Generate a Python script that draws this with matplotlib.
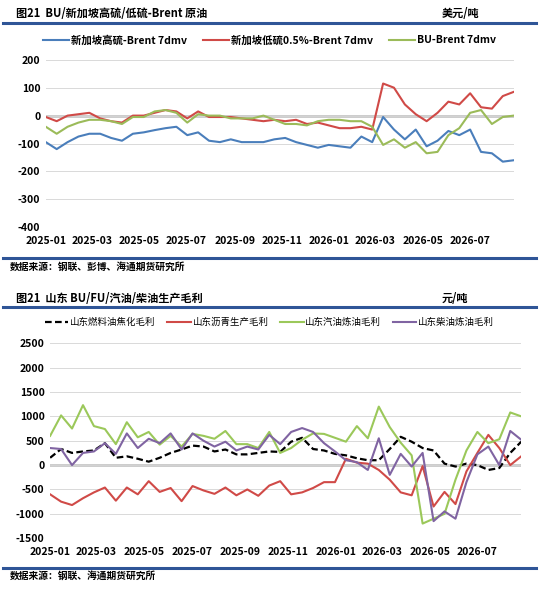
import pandas as pd
import matplotlib
matplotlib.use("Agg")
import matplotlib.pyplot as plt
import matplotlib.dates as mdates
from matplotlib.lines import Line2D

plt.rcParams['font.family'] = ['Noto Sans CJK SC', 'DejaVu Sans']
plt.rcParams['axes.unicode_minus'] = False

dates = pd.date_range('2025-01-01', periods=44, freq='14D')

# top chart: spreads vs Brent, USD/t
sg_hsfo = [-95, -120, -95, -75, -65, -65, -80, -90, -65, -60, -52, -45, -40, -70, -60, -90, -95, -85,
           -95, -95, -95, -85, -80, -95, -105, -115, -105, -110, -115, -75, -95, -5, -50, -85, -50,
           -110, -90, -55, -70, -50, -130, -135, -165, -160]
sg_lsfo = [-5, -20, 0, 5, 10, -10, -20, -25, 0, 0, 10, 20, 15, -10, 15, -5, -5, -5, -10, -15, -20,
           -15, -20, -15, -30, -25, -35, -45, -45, -40, -50, 115, 100, 40, 5, -20, 10, 50, 40, 80,
           30, 25, 70, 85]
bu_brent = [-40, -65, -40, -25, -15, -15, -20, -30, -5, -5, 15, 20, 10, -25, 5, 0, 0, -10, -10, -10,
            0, -15, -30, -30, -35, -20, -15, -15, -20, -20, -40, -105, -85, -115, -95, -135, -130,
            -70, -45, 10, 20, -30, -5, 0]

# bottom chart: Shandong margins, CNY/t
fu_coking = [150, 330, 250, 280, 300, 450, 150, 180, 130, 70, 150, 250, 320, 400, 380, 280, 320, 220,
             220, 250, 280, 270, 480, 560, 330, 300, 230, 200, 140, 100, 100, 330, 580, 480, 350,
             300, 30, -30, 30, 0, -100, -60, 250, 480]
bu_margin = [-600, -750, -820, -680, -560, -460, -730, -460, -600, -330, -550, -470, -740, -430, -520,
             -590, -460, -620, -500, -630, -420, -330, -600, -560, -470, -350, -350, 130, 50, 30,
             -100, -300, -560, -620, -20, -850, -550, -800, -130, 250, 620, 350, 0, 180]
gasoline = [600, 1020, 750, 1230, 800, 740, 430, 880, 570, 680, 420, 600, 380, 640, 600, 540, 700, 430,
            430, 350, 680, 250, 350, 520, 650, 640, 560, 480, 800, 550, 1200, 780, 460, 200, -1200,
            -1100, -1000, -300, 300, 680, 450, 530, 1080, 1000]
diesel = [350, 330, 0, 250, 280, 450, 230, 650, 350, 540, 450, 650, 320, 650, 500, 380, 480, 300, 380,
          320, 620, 430, 680, 760, 680, 450, 280, 100, 60, -100, 550, -200, 230, -30, 250, -1150,
          -950, -1100, -350, 220, 380, 0, 700, 520]

navy = '#2f5597'
fig = plt.figure(figsize=(5.39, 5.98), dpi=100)


def style_ax(ax, ylim, yticks):
    ax.set_ylim(*ylim)
    ax.set_yticks(yticks)
    ax.set_xlim(dates[0], dates[-1])
    ax.xaxis.set_major_locator(mdates.MonthLocator(bymonth=[1, 3, 5, 7, 9, 11]))
    ax.xaxis.set_major_formatter(mdates.DateFormatter('%Y-%m'))
    ax.grid(axis='y', color='#d9d9d9', lw=0.7)
    ax.axhline(0, color='black', lw=1, zorder=1)
    for s in ax.spines.values():
        s.set_visible(False)
    ax.tick_params(axis='y', length=0, labelsize=7.5, pad=4)
    ax.tick_params(axis='x', length=0, labelsize=7.5, pad=6)
    for lab in ax.get_xticklabels() + ax.get_yticklabels():
        lab.set_fontweight('bold')


def header(y_title, y_line, y_bottom, y_src, title, unit, src):
    fig.text(0.03, y_title, title, fontsize=8, fontweight='bold', va='center')
    fig.text(0.82, y_title, unit, fontsize=8, fontweight='bold', va='center')
    fig.add_artist(Line2D([0.005, 0.995], [y_line, y_line], color=navy, lw=2.2))
    fig.add_artist(Line2D([0.005, 0.995], [y_bottom, y_bottom], color=navy, lw=2.2))
    fig.text(0.018, y_src, src, fontsize=7, fontweight='bold', va='center')


# top chart
ax1 = fig.add_axes([0.085, 0.62, 0.868, 0.28])
ax1.plot(dates, sg_hsfo, color='#4a7ebb', lw=1.5, label='新加坡高硫-Brent 7dmv')
ax1.plot(dates, sg_lsfo, color='#d04a47', lw=1.5, label='新加坡低硫0.5%-Brent 7dmv')
ax1.plot(dates, bu_brent, color='#9bbb59', lw=1.5, label='BU-Brent 7dmv')
style_ax(ax1, (-400, 200), range(-400, 201, 100))
ax1.legend(loc='center', bbox_to_anchor=(0.5, 0.933), bbox_transform=fig.transFigure, ncol=3,
           frameon=False, handlelength=2.5, columnspacing=1.5, handletextpad=0.2,
           prop={'weight': 'bold', 'size': 7.5})
header(0.977, 0.962, 0.568, 0.553, '图21  BU/新加坡高硫/低硫-Brent 原油', '美元/吨',
       '数据来源：钢联、彭博、海通期货研究所')

# bottom chart
ax2 = fig.add_axes([0.093, 0.1, 0.874, 0.326])
ax2.plot(dates, fu_coking, color='black', lw=1.6, ls=(0, (3, 1.5)), label='山东燃料油焦化毛利')
ax2.plot(dates, bu_margin, color='#d04a47', lw=1.5, label='山东沥青生产毛利')
ax2.plot(dates, gasoline, color='#9bc85a', lw=1.5, label='山东汽油炼油毛利')
ax2.plot(dates, diesel, color='#8064a2', lw=1.5, label='山东柴油炼油毛利')
style_ax(ax2, (-1500, 2500), range(-1500, 2501, 500))
ax2.legend(loc='center', bbox_to_anchor=(0.5, 0.461), bbox_transform=fig.transFigure, ncol=4,
           frameon=False, handlelength=2.5, columnspacing=1.2, handletextpad=0.2,
           prop={'size': 6.8})
header(0.501, 0.487, 0.05, 0.037, '图21  山东 BU/FU/汽油/柴油生产毛利', '元/吨',
       '数据来源：钢联、海通期货研究所')

fig.savefig('out.png', dpi=100)
